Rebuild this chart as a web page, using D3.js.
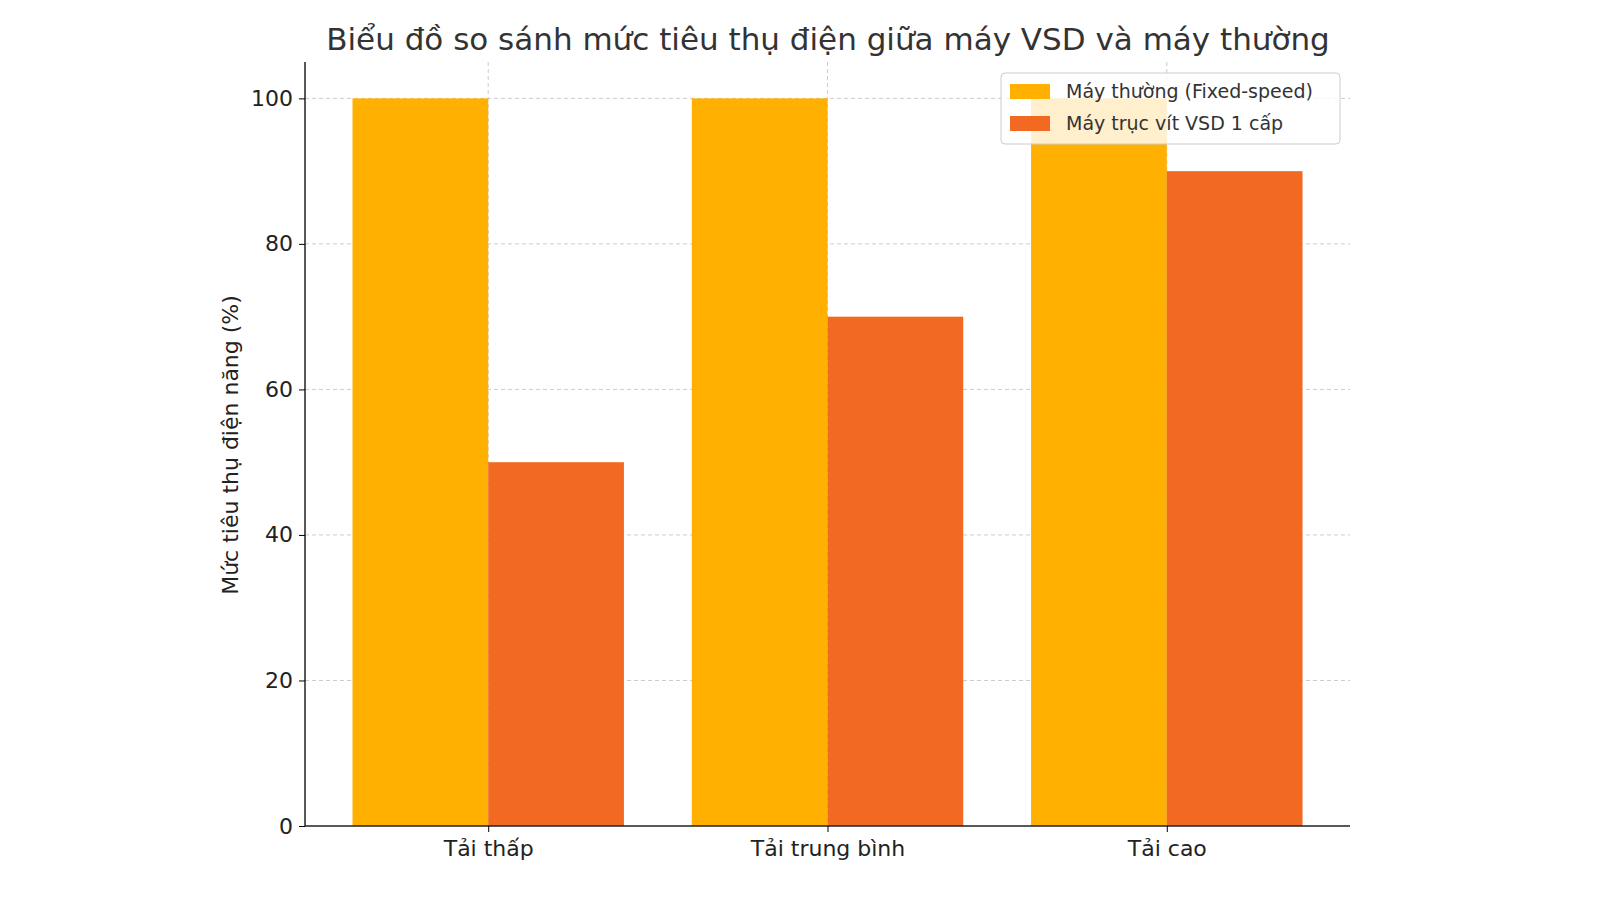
<!DOCTYPE html>
<html><head><meta charset="utf-8">
<script src="https://cdn.jsdelivr.net/npm/d3@7"></script>
<style>body{margin:0;background:#fff}text{font-family:"DejaVu Sans",sans-serif}</style>
</head><body>
<svg id="chart" width="1600" height="900"></svg>
<script>
var categories = ["Tải thấp", "Tải trung bình", "Tải cao"];
var fixedSpeed = [100, 100, 100];
var vsd = [50, 70, 90];
var seriesNames = ["Máy thường (Fixed-speed)", "Máy trục vít VSD 1 cấp"];
var yTicks = [0, 20, 40, 60, 80, 100];
var colors = ["#FFB000", "#F26A22"];

var svg = d3.select("#chart");
var plotL = 305, plotR = 1350, plotT = 62, plotB = 826;

var x = d3.scaleLinear().domain([-0.54, 2.54]).range([plotL, plotR]);
var y = d3.scaleLinear().domain([0, 105]).range([plotB, plotT]);
var bw = x(0.4) - x(0);

// grid
svg.append("g").selectAll("line").data(yTicks.slice(1)).enter().append("line")
  .attr("x1", plotL).attr("x2", plotR).attr("y1", d => y(d)).attr("y2", d => y(d))
  .attr("stroke", "#ccc").attr("stroke-dasharray", "4,3");
svg.append("g").selectAll("line").data(categories).enter().append("line")
  .attr("x1", (d, i) => x(i)).attr("x2", (d, i) => x(i)).attr("y1", plotT).attr("y2", plotB)
  .attr("stroke", "#ccc").attr("stroke-dasharray", "4,3");

// bars
[fixedSpeed, vsd].forEach(function (vals, s) {
  svg.append("g").selectAll("rect").data(vals).enter().append("rect")
    .attr("x", (d, i) => s == 0 ? x(i) - bw : x(i))
    .attr("width", bw)
    .attr("y", d => y(d)).attr("height", d => plotB - y(d))
    .attr("fill", colors[s]);
});

// axes
var ya = svg.append("g").attr("transform", "translate(" + plotL + ",0)")
  .call(d3.axisLeft(y).tickValues(yTicks).tickSize(6).tickPadding(6));
ya.select(".domain").attr("d", "M0," + plotB + "V" + plotT).attr("stroke", "#222").attr("stroke-width", 1.5);
ya.selectAll("text").attr("font-size", 22).attr("fill", "#222").attr("font-family", "DejaVu Sans");

var xa = svg.append("g").attr("transform", "translate(0," + plotB + ")")
  .call(d3.axisBottom(x).tickValues([0, 1, 2]).tickFormat(i => categories[i]).tickSize(6).tickPadding(8));
xa.select(".domain").attr("d", "M" + plotL + ",0H" + plotR).attr("stroke", "#222").attr("stroke-width", 1.5);
xa.selectAll("text").attr("font-size", 22).attr("fill", "#222").attr("font-family", "DejaVu Sans");

// title & label
svg.append("text").attr("x", 828).attr("y", 50).attr("text-anchor", "middle")
  .attr("font-size", 31).attr("fill", "#333").text("Biểu đồ so sánh mức tiêu thụ điện giữa máy VSD và máy thường");
svg.append("text").attr("transform", "translate(238,445) rotate(-90)").attr("text-anchor", "middle")
  .attr("font-size", 22).attr("fill", "#222").text("Mức tiêu thụ điện năng (%)");

// legend
var lg = svg.append("g").attr("transform", "translate(1001,73)");
lg.append("rect").attr("width", 339).attr("height", 71).attr("rx", 4)
  .attr("fill", "rgba(255,255,255,0.8)").attr("stroke", "#ccc");
seriesNames.forEach(function (n, i) {
  lg.append("rect").attr("x", 9).attr("y", 11 + i * 32).attr("width", 40).attr("height", 15).attr("fill", colors[i]);
  lg.append("text").attr("x", 65).attr("y", 25 + i * 32).attr("font-size", 19).attr("fill", "#333").text(n);
});
</script>
</body></html>
